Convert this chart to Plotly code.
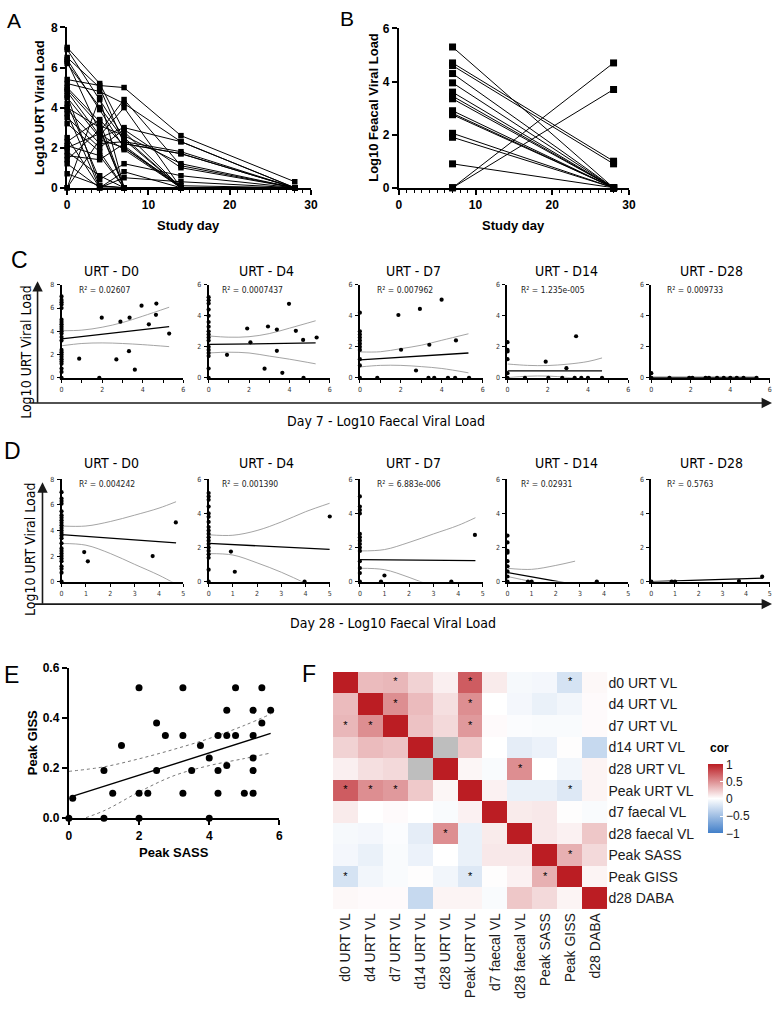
import plotly.graph_objects as go

# ---------------- canvas helpers ----------------
W, H = 782, 1009
OX, OY = 0, 0


def fx(p):
    return (p - OX) / W


def fy(p):
    return 1 - (p - OY) / H


SANS = "Liberation Sans, Arial, sans-serif"
NARROW = "Liberation Sans Narrow, DejaVu Sans Condensed, Roboto Condensed, Liberation Sans, sans-serif"

# ---------------- DATA ----------------
# Panel A: URT viral load per subject at study days
study_days = [0, 4, 7, 14, 28]
urt_d0 = [7.0, 6.9, 6.5, 6.4, 6.3, 6.2, 5.4, 5.2, 5.0, 4.9, 4.8, 4.6, 4.5, 4.2, 4.0,
          3.9, 3.7, 3.5, 3.2, 2.5, 2.3, 2.1, 2.0, 1.8, 1.6, 1.4, 1.2, 0.7, 0.0, 0.0]
urt_d4 = [5.2, 4.4, 5.0, 3.9, 2.8, 4.0, 5.1, 4.8, 3.3, 3.1, 2.6, 0.1, 2.5, 0.4, 3.0,
          2.2, 0.0, 2.0, 1.8, 0.0, 3.4, 1.6, 2.7, 0.6, 1.4, 2.9, 0.0, 0.1, 2.4, 4.5]
urt_d7 = [2.8, 2.5, 2.2, 2.0, 4.4, 2.4, 5.0, 4.2, 0.0, 2.6, 4.0, 0.0, 3.0, 1.2, 0.0,
          2.3, 0.8, 2.9, 0.0, 0.5, 2.1, 0.0, 1.9, 0.0, 2.2, 0.0, 0.0, 0.0, 2.0, 0.0]
urt_d14 = [0.0, 0.0, 1.7, 0.0, 1.1, 0.0, 2.6, 2.3, 0.0, 1.2, 0.0, 0.0, 2.3, 0.6, 0.0,
           1.8, 0.0, 1.0, 0.0, 0.3, 0.0, 0.0, 0.0, 0.0, 1.7, 0.0, 0.0, 0.0, 0.1, 0.0]
urt_d28 = [0.0, 0.0, 0.0, 0.0, 0.0, 0.0, 0.3, 0.0, 0.0, 0.0, 0.0, 0.0, 0.0, 0.0, 0.0,
           0.0, 0.0, 0.0, 0.0, 0.0, 0.0, 0.0, 0.0, 0.0, 0.0, 0.0, 0.0, 0.0, 0.0, 0.0]

# Panel B: faecal viral load day 7 -> day 28
faecal_days = [7, 28]
faecal_d7 = [5.3, 4.7, 4.6, 4.3, 3.95, 3.6, 3.45, 3.35, 2.9, 2.8, 2.75, 2.05, 1.9, 0.9, 0.0, 0.0]
faecal_d28 = [0.0, 1.0, 0.9, 0.0, 0.0, 0.0, 0.0, 0.0, 0.0, 0.0, 0.0, 0.0, 0.0, 0.0, 4.7, 3.7]

# Panels C / D: small regression panels
panel_titles = ["URT - D0", "URT - D4", "URT - D7", "URT - D14", "URT - D28"]
c_r2 = ["R² = 0.02607", "R² = 0.0007437", "R² = 0.007962", "R² = 1.235e-005", "R² = 0.009733"]
d_r2 = ["R² = 0.004242", "R² = 0.001390", "R² = 6.883e-006", "R² = 0.02931", "R² = 0.5763"]
small_ymax = [8, 6, 6, 6, 6]

# C: day-7 faecal VL (x) vs URT VL (y)
c_x = [
    [0.87, 1.86, 1.98, 2.7, 2.9, 3.35, 3.32, 3.61, 3.94, 4.3, 4.67, 4.65, 5.3],
    [0.91, 1.91, 2.07, 2.94, 2.77, 3.38, 3.38, 3.65, 3.98, 4.32, 4.68, 4.7, 5.35],
    [0.85, 1.88, 2.01, 2.74, 2.93, 3.35, 3.39, 3.63, 3.99, 4.3, 4.65, 4.69, 5.33],
    [0.87, 1.9, 2.03, 2.72, 2.93, 3.34, 3.41, 3.67, 4.0, 4.7],
    [0.92, 1.92, 2.08, 2.75, 2.92, 3.33, 3.67, 4.0, 4.33, 4.67, 5.33],
]
c_y = [
    [1.64, 0.0, 5.17, 1.58, 4.83, 5.17, 2.29, 0.7, 6.2, 4.6, 6.38, 5.42, 3.8],
    [1.48, 3.18, 2.29, 3.31, 0.59, 3.11, 1.74, 0.32, 4.77, 3.03, 2.44, 0.0, 2.6],
    [0.0, 4.05, 1.81, 0.47, 4.44, 0.0, 2.13, 0.0, 5.04, 0.0, 0.0, 2.41, 0.0],
    [0.0, 1.04, 0.0, 0.0, 0.62, 0.0, 2.68, 0.0, 0.0, 0.0],
    [0.0, 0.0, 0.0, 0.0, 0.0, 0.0, 0.0, 0.0, 0.0, 0.0, 0.0],
]
c_axis_stack = [
    [7.0, 6.7, 6.5, 6.3, 6.0, 5.0, 4.8, 4.6, 4.4, 4.2, 4.0, 3.8, 3.5, 3.2, 2.4, 2.2, 2.0,
     1.8, 1.6, 1.4, 1.2, 0.8, 0.5, 0.0],
    [5.2, 5.0, 4.8, 4.4, 4.0, 3.6, 3.3, 3.0, 2.8, 2.6, 2.4, 2.0, 1.8, 1.6, 1.4, 0.6, 0.0],
    [4.2, 3.0, 2.8, 2.6, 2.4, 2.2, 2.0, 1.8, 1.2, 0.8, 0.0],
    [2.3, 1.8, 1.7, 1.2, 0.3, 0.0],
    [0.3, 0.0],
]
c_fit_x = [[0, 5.3], [0, 5.3], [0, 5.3], [0, 4.7], [0, 5.3]]
c_fit_y = [[3.35, 4.4], [2.15, 2.25], [1.15, 1.6], [0.45, 0.45], [0.02, 0.02]]
c_band_x = [[0, 1, 2, 3, 4, 5.3], [0, 1, 2, 3, 4, 5.3], [0, 1, 2, 3, 4, 5.3],
            [0, 1, 2, 3, 4, 4.7], []]
c_band_up = [[4.05, 4.1, 4.35, 4.75, 5.3, 6.07], [2.7, 2.62, 2.65, 2.85, 3.2, 3.68],
             [1.67, 1.68, 1.88, 2.1, 2.42, 2.84], [0.89, 0.8, 0.79, 0.88, 1.05, 1.28], []]
c_band_lo = [[2.75, 2.95, 3.0, 2.95, 2.85, 2.68], [1.6, 1.65, 1.6, 1.4, 1.2, 0.9],
             [0.7, 0.8, 0.8, 0.72, 0.6, 0.32], [0.01, 0.1, 0.11, 0.02, -0.15, -0.38], []]

# D: day-28 faecal VL (x) vs URT VL (y)
d_x = [[0.93, 1.08, 3.74, 4.69], [0.92, 1.08, 3.96, 5.0], [0.86, 1.0, 3.72, 4.68],
       [0.85, 1.0, 3.7], [0.86, 1.0, 3.7, 4.68]]
d_y = [[2.31, 1.59, 2.0, 4.63], [1.76, 0.58, 0.0, 3.82], [0.0, 0.36, 0.0, 2.74],
       [0.0, 0.0, 0.0], [0.0, 0.0, 0.03, 0.29]]
d_axis_stack = [
    [7.0, 6.5, 6.3, 6.1, 5.5, 5.2, 5.0, 4.8, 4.6, 4.4, 4.2, 4.0, 3.8, 3.6, 3.4, 3.0, 2.6,
     2.4, 2.2, 2.0, 1.8, 1.6, 1.2, 1.0, 0.7, 0.0],
    [5.2, 5.0, 4.8, 4.4, 4.0, 3.8, 3.5, 3.2, 3.0, 2.8, 2.6, 2.4, 2.2, 2.0, 1.8, 1.6, 1.4, 0.7, 0.0],
    [5.0, 4.4, 4.2, 4.0, 2.8, 2.6, 2.4, 2.2, 2.0, 1.8, 1.2, 0.8, 0.5, 0.0],
    [2.7, 2.3, 1.8, 1.7, 1.2, 0.9, 0.6, 0.3, 0.0],
    [0.0],
]
d_fit_x = [[0, 4.7], [0, 5.0], [0, 4.7], [0, 3.7], [0, 4.7]]
d_fit_y = [[3.68, 3.03], [2.24, 1.89], [1.29, 1.23], [0.53, -0.4], [0.0, 0.2]]
d_band_x = [[0, 1, 2, 3, 4, 4.7], [0, 1, 2, 3, 4, 5.0], [0, 1, 2, 3, 4, 4.7], [0, 1, 2, 2.8], []]
d_band_up = [[4.35, 4.35, 4.7, 5.2, 5.75, 6.25], [2.75, 2.72, 3.0, 3.5, 4.1, 4.6],
             [1.8, 1.88, 2.3, 2.8, 3.3, 3.75], [0.78, 0.72, 0.95, 1.2], []]
d_band_lo = [[2.98, 2.85, 2.2, 1.35, 0.5, -0.2], [1.64, 1.56, 1.1, 0.55, -0.1, -0.8],
             [0.78, 0.7, 0.25, -0.3, -0.85, -1.3], [0.3, 0.0, -0.3, -0.6], []]

# Panel E
peak_sass = [0, 0.11, 1.0, 1.0, 1.25, 1.5, 2, 2, 2, 2.25, 2.5, 2.5, 2.75, 3.25, 3.25, 3.25,
             3.5, 3.75, 4.0, 4.0, 4.25, 4.25, 4.25, 4.5, 4.5, 4.5, 4.75, 4.75, 5.0, 5.25,
             5.25, 5.25, 5.25, 5.25, 5.5, 5.5, 5.75]
peak_giss = [0, 0.08, 0.19, 0, 0.1, 0.29, 0.52, 0.1, 0, 0.1, 0.38, 0.19, 0.33, 0.52, 0.33, 0.1,
             0.19, 0.29, 0.24, 0, 0.33, 0.19, 0.1, 0.43, 0.33, 0.21, 0.52, 0.33, 0.1, 0.43,
             0.33, 0.24, 0.19, 0.1, 0.52, 0.38, 0.43]
e_fit_x = [0.05, 5.75]
e_fit_y = [0.085, 0.338]
e_band_x = [0, 1, 2, 3, 4, 5, 5.75]
e_band_up = [0.187, 0.205, 0.237, 0.275, 0.318, 0.37, 0.415]
e_band_lo = [-0.02, 0.03, 0.105, 0.17, 0.21, 0.238, 0.26]

# Panel F: correlation matrix
cor_labels = ["d0 URT VL", "d4 URT VL", "d7 URT VL", "d14 URT VL", "d28 URT VL",
              "Peak URT VL", "d7 faecal VL", "d28 faecal VL", "Peak SASS", "Peak GISS", "d28 DABA"]
cor_values = [
    [1.00, 0.30, 0.32, 0.20, 0.07, 0.72, 0.09, -0.05, -0.06, -0.22, 0.03],
    [0.30, 1.00, 0.50, 0.30, 0.14, 0.50, 0.00, -0.06, -0.11, -0.07, 0.02],
    [0.32, 0.50, 1.00, 0.27, 0.17, 0.45, 0.02, -0.02, -0.03, -0.03, 0.02],
    [0.20, 0.30, 0.27, 1.00, None, 0.24, 0.00, -0.14, -0.10, 0.01, -0.30],
    [0.07, 0.14, 0.17, None, 1.00, 0.04, -0.03, 0.50, 0.00, -0.07, 0.05],
    [0.72, 0.50, 0.45, 0.24, 0.04, 1.00, 0.06, -0.11, -0.11, -0.18, 0.05],
    [0.09, 0.00, 0.02, 0.00, -0.03, 0.06, 1.00, 0.09, 0.10, 0.01, -0.03],
    [-0.05, -0.06, -0.02, -0.14, 0.50, -0.11, 0.09, 1.00, 0.10, 0.06, 0.25],
    [-0.06, -0.11, -0.03, -0.10, 0.00, -0.11, 0.10, 0.10, 1.00, 0.35, 0.17],
    [-0.22, -0.07, -0.03, 0.01, -0.07, -0.18, 0.01, 0.06, 0.35, 1.00, 0.05],
    [0.03, 0.02, 0.02, -0.30, 0.05, 0.05, -0.03, 0.25, 0.17, 0.05, 1.00],
]
star_rows = [0, 0, 0, 1, 1, 2, 2, 2, 4, 5, 5, 5, 5, 7, 8, 9, 9, 9]
star_cols = [2, 5, 9, 2, 5, 0, 1, 5, 7, 0, 1, 2, 9, 4, 9, 0, 5, 8]
cbar_ticks = [-1, -0.5, 0, 0.5, 1]
cbar_ticktext = ["−1", "−0.5", "0", "0.5", "1"]

# ---------------- FIGURE ----------------
fig = go.Figure()
layout = dict(width=W, height=H, margin=dict(l=0, r=0, t=0, b=0),
              paper_bgcolor="white", plot_bgcolor="white", showlegend=False,
              font=dict(family=SANS, color="black"))
annotations = []


def sfx(n):
    return "" if n == 1 else str(n)


def set_axes(n, xdom, ydom, xr, yr, xkw, ykw):
    s = sfx(n)
    xa = dict(domain=[fx(xdom[0]), fx(xdom[1])], range=xr, anchor="y" + s,
              showgrid=False, zeroline=False, fixedrange=True)
    ya = dict(domain=[fy(ydom[1]), fy(ydom[0])], range=yr, anchor="x" + s,
              showgrid=False, zeroline=False, fixedrange=True)
    xa.update(xkw)
    ya.update(ykw)
    layout["xaxis" + s] = xa
    layout["yaxis" + s] = ya


def big_axis(dtick, minor_dtick=None, fmt=None):
    d = dict(showline=True, linewidth=2.2, linecolor="black", ticks="outside", ticklen=5,
             tickwidth=2, tickcolor="black", tickmode="linear", tick0=0, dtick=dtick,
             tickfont=dict(family=SANS, size=12, color="black", weight="bold"))
    if minor_dtick:
        d["minor"] = dict(dtick=minor_dtick, tick0=0, ticks="outside", ticklen=3,
                          tickwidth=1.2, tickcolor="black")
    if fmt:
        d["tickformat"] = fmt
    return d


def small_axis(dtick, minor_dtick=None):
    d = dict(showline=True, linewidth=2, linecolor="black", ticks="outside", ticklen=3,
             tickwidth=1.4, tickcolor="black", tickmode="linear", tick0=0, dtick=dtick,
             ticklabelstandoff=1,
             tickfont=dict(family=NARROW, size=7, color="#333"))
    if minor_dtick:
        d["minor"] = dict(dtick=minor_dtick, tick0=0, ticks="outside", ticklen=3,
                          tickwidth=1.2, tickcolor="black")
    return d


def ann(text, x, y, size, family=SANS, bold=False, angle=0, xanchor="center",
        yanchor="middle", color="black"):
    annotations.append(dict(text=text, x=fx(x), y=fy(y), xref="paper", yref="paper",
                            showarrow=False, xanchor=xanchor, yanchor=yanchor,
                            textangle=angle,
                            font=dict(family=family, size=size, color=color,
                                      weight="bold" if bold else "normal")))


def arrow(x_head, y_head, ax, ay):
    annotations.append(dict(text="", x=fx(x_head), y=fy(y_head), xref="paper", yref="paper",
                            showarrow=True, ax=ax, ay=ay, arrowhead=2, arrowsize=1.3,
                            arrowwidth=1.6, arrowcolor="#1a1a1a"))


# ---- Panel A ----
set_axes(1, (65, 312), (20.7, 183.3), [0, 30], [0, 8], big_axis(10, 1), big_axis(2))
ax_, ay_ = [], []
for i in range(len(urt_d0)):
    for d, col in zip(study_days, [urt_d0, urt_d4, urt_d7, urt_d14, urt_d28]):
        ax_.append(d)
        ay_.append(col[i])
    ax_.append(None)
    ay_.append(None)
fig.add_trace(go.Scatter(x=ax_, y=ay_, mode="lines+markers", xaxis="x", yaxis="y",
                         line=dict(color="black", width=1),
                         marker=dict(symbol="square", size=5.5, color="black"),
                         cliponaxis=False, hoverinfo="skip"))
ann("A", 11, 14, 21)
ann("Log10 URT Viral Load", 37, 102, 13, bold=True, angle=-90)
ann("Study day", 188, 222, 13, bold=True)

# ---- Panel B ----
set_axes(2, (401, 634), (21.7, 183.3), [0, 30], [0, 6], big_axis(10, 1), big_axis(2))
bx, by = [], []
for i in range(len(faecal_d7)):
    bx += [faecal_days[0], faecal_days[1], None]
    by += [faecal_d7[i], faecal_d28[i], None]
fig.add_trace(go.Scatter(x=bx, y=by, mode="lines+markers", xaxis="x2", yaxis="y2",
                         line=dict(color="black", width=1),
                         marker=dict(symbol="square", size=7, color="black"),
                         cliponaxis=False, hoverinfo="skip"))
ann("B", 348, 12, 21)
ann("Log10 Feacal Viral Load", 375, 102, 13, bold=True, angle=-90)
ann("Study day", 517, 222, 13, bold=True)

# ---- Panels C and D ----
small_x = [(59.3, 182.7), (208.3, 331), (361.5, 486), (511, 633.3), (656.7, 776.7)]
title_cx = [110, 267, 416, 571, 718]
r2_x = [75, 220, 377, 523, 671]


def small_panel(n, xdom, ydom, xmax, xdt, xminor, ymax, pts_x, pts_y, stack, fx_, fy_,
                bx_, bup, blo):
    set_axes(n, xdom, ydom, [0, xmax], [0, ymax], small_axis(xdt, xminor), small_axis(2))
    s = sfx(n)
    if bx_:
        for band in (bup, blo):
            fig.add_trace(go.Scatter(x=bx_, y=band, mode="lines", xaxis="x" + s, yaxis="y" + s,
                                     line=dict(color="#9a9a9a", width=0.9, shape="spline"),
                                     hoverinfo="skip"))
    fig.add_trace(go.Scatter(x=fx_, y=fy_, mode="lines", xaxis="x" + s, yaxis="y" + s,
                             line=dict(color="black", width=1.3), hoverinfo="skip"))
    fig.add_trace(go.Scatter(x=pts_x + [0] * len(stack), y=pts_y + stack, mode="markers",
                             xaxis="x" + s, yaxis="y" + s,
                             marker=dict(size=4.2, color="black"), cliponaxis=False,
                             hoverinfo="skip"))


for k in range(5):
    small_panel(3 + k, small_x[k], (281.7, 376), 6, 2, 1, small_ymax[k], c_x[k], c_y[k],
                c_axis_stack[k], c_fit_x[k], c_fit_y[k], c_band_x[k], c_band_up[k],
                c_band_lo[k])
    ann(panel_titles[k], title_cx[k], 268, 14, family=NARROW)
    ann(c_r2[k], r2_x[k], 287, 8.5, family=NARROW, xanchor="left", color="#222")
    small_panel(8 + k, small_x[k], (479, 582.7), 5, 1, None, small_ymax[k], d_x[k], d_y[k],
                d_axis_stack[k], d_fit_x[k], d_fit_y[k], d_band_x[k], d_band_up[k],
                d_band_lo[k])
    ann(panel_titles[k], title_cx[k], 462, 14, family=NARROW)
    ann(d_r2[k], r2_x[k], 484, 8.5, family=NARROW, xanchor="left", color="#222")

ann("C", 17, 257, 23)
ann("D", 10, 450, 23)
# axis arrows C
arrow(35, 278, 0, 123)
arrow(779, 401.5, -744, 0)
ann("Log10 URT Viral Load", 23, 350, 14, family=NARROW, angle=-90)
ann("Day 7 - Log10 Faecal Viral Load", 388, 420, 14, family=NARROW)
# axis arrows D
arrow(40, 482, 0, 123)
arrow(779, 605.5, -739, 0)
ann("Log10 URT Viral Load", 28, 550, 14, family=NARROW, angle=-90)
ann("Day 28 - Log10 Faecal Viral Load", 395, 625, 14, family=NARROW)

# ---- Panel E ----
set_axes(13, (66.7, 280), (670, 822.7), [0, 6], [0, 0.6], big_axis(2),
         big_axis(0.2, fmt=".1f"))
for band in (e_band_up, e_band_lo):
    fig.add_trace(go.Scatter(x=e_band_x, y=band, mode="lines", xaxis="x13", yaxis="y13",
                             line=dict(color="#666", width=0.9, dash="dot", shape="spline"),
                             hoverinfo="skip"))
fig.add_trace(go.Scatter(x=e_fit_x, y=e_fit_y, mode="lines", xaxis="x13", yaxis="y13",
                         line=dict(color="black", width=1.4), hoverinfo="skip"))
fig.add_trace(go.Scatter(x=peak_sass, y=peak_giss, mode="markers", xaxis="x13", yaxis="y13",
                         marker=dict(size=7, color="black"), cliponaxis=False,
                         hoverinfo="skip"))
ann("E", 9, 677, 23)
ann("Peak GISS", 30, 746, 13, bold=True, angle=-90)
ann("Peak SASS", 173, 857, 13, bold=True)

# ---- Panel F ----
n = len(cor_labels)
idx = list(range(n))
set_axes(14, (334.3, 612.3), (674.3, 915), [-0.5, n - 0.5], [n - 0.5, -0.5],
         dict(showline=False, ticks="", tickmode="array", tickvals=idx, ticktext=cor_labels,
              tickangle=-90, tickfont=dict(family=SANS, size=14, color="#1a1a1a")),
         dict(showline=False, ticks="", side="right", tickmode="array", tickvals=idx,
              ticktext=cor_labels, tickfont=dict(family=SANS, size=14, color="#1a1a1a")))
na_z = [[1 if v is None else None for v in row] for row in cor_values]
fig.add_trace(go.Heatmap(z=na_z, x=idx, y=idx, xaxis="x14", yaxis="y14",
                         colorscale=[[0, "#bebebe"], [1, "#bebebe"]], showscale=False,
                         hoverinfo="skip"))
fig.add_trace(go.Heatmap(
    z=cor_values, x=idx, y=idx, xaxis="x14", yaxis="y14", zmin=-1, zmax=1,
    colorscale=[[0, "#427fc9"], [0.5, "#ffffff"], [1, "#bb1d23"]],
    hoverinfo="skip",
    colorbar=dict(x=fx(714), xanchor="left", y=fy(768), yanchor="top",
                  len=70 / H, lenmode="fraction", thickness=15, outlinewidth=0,
                  xpad=0, ypad=0,
                  tickvals=cbar_ticks, ticktext=cbar_ticktext,
                  ticks="inside", ticklen=3, tickcolor="white", tickwidth=1,
                  tickfont=dict(family=SANS, size=12, color="#1a1a1a"))))
fig.add_trace(go.Scatter(x=star_cols, y=star_rows, mode="text", text=["*"] * len(star_rows),
                         xaxis="x14", yaxis="y14", textposition="middle center",
                         textfont=dict(family=SANS, size=11, color="black"),
                         hoverinfo="skip"))
ann("cor", 714, 751, 12, bold=True, xanchor="left")
ann("F", 310, 676, 23)

layout["annotations"] = annotations
fig.update_layout(**layout)
fig.write_html("out.html", config={"displayModeBar": False},
               post_script="document.body.style.margin='0';")
